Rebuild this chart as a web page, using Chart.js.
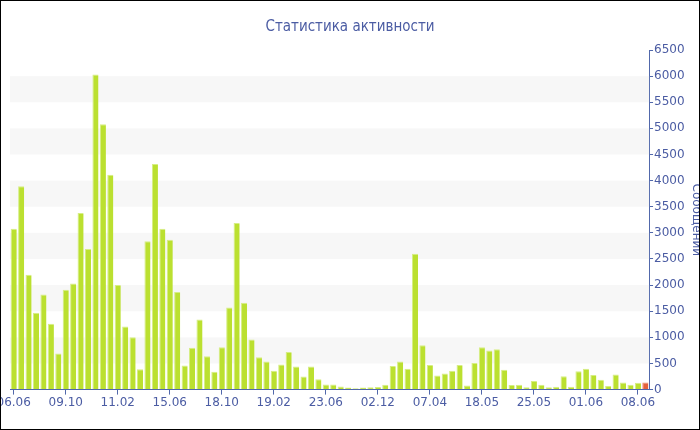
<!DOCTYPE html>
<html>
<head>
<meta charset="utf-8">
<script src="https://cdn.jsdelivr.net/npm/chart.js@4"></script>
<style>
  html, body { margin: 0; padding: 0; background: #fff; }
  #wrap { width: 700px; height: 430px; }
</style>
</head>
<body>
<div id="wrap"><canvas id="myChart" width="700" height="430"></canvas></div>
<script>
// tick labels shown under the x axis, one every 7 bars
const tickLabels = ["06.06", "09.10", "11.02", "15.06", "18.10", "19.02", "23.06",
  "02.12", "07.04", "18.05", "25.05", "01.06", "08.06"];
const labelEvery = 7;

// messages per period
const messages = [
  3080, 3890, 2200, 1470, 1820, 1260, 690, 1910, 2030, 3380,
  2690, 6030, 5080, 4110, 2000, 1210, 1000, 390, 2840, 4320,
  3080, 2870, 1870, 460, 800, 1340, 640, 340, 810, 1570,
  3190, 1660, 960, 620, 540, 360, 480, 720, 440, 250,
  440, 200, 100, 100, 60, 40, 25, 40, 45, 50,
  95, 450, 540, 400, 2600, 850, 470, 270, 310, 360,
  470, 80, 510, 810, 750, 770, 380, 90, 95, 45,
  165, 95, 45, 55, 255, 55, 350, 400, 280, 190,
  70, 290, 135, 95, 130, 135
];

const categories = messages.map((v, i) => i % labelEvery === 0 ? tickLabels[i / labelEvery] : "");

const textColor = "#4b5ca3";
const lineColor = "#5168ab";
const green = "#bbe030";
const red = "#e4613b";

let chart;

// light grey horizontal bands every other 500 step
const bandsPlugin = {
  id: "bands",
  beforeDatasetsDraw(c) {
    const { ctx, chartArea } = c;
    const y = c.scales.y;
    ctx.save();
    ctx.fillStyle = "#f7f7f7";
    for (let v = 500; v < y.max; v += 1000) {
      const top = y.getPixelForValue(v + 500);
      const bottom = y.getPixelForValue(v);
      ctx.fillRect(chartArea.left, top, chartArea.right - chartArea.left, bottom - top);
    }
    ctx.restore();
  },
  afterDraw(c) {
    const ctx = c.ctx;
    ctx.save();
    ctx.strokeStyle = "#000";
    ctx.lineWidth = 1;
    ctx.strokeRect(0.5, 0.5, c.width - 1, c.height - 1);
    ctx.restore();
  }
};

function initChart() {
  const ctx = document.getElementById("myChart");

  chart = new Chart(ctx, {
    type: "bar",
    data: {
      labels: categories,
      datasets: [{
        data: messages,
        backgroundColor: (c) => c.dataIndex === messages.length - 1 ? red : green,
        borderColor: (c) => c.dataIndex === messages.length - 1 ? "#ee8a6a" : "#d6ee84",
        borderWidth: { left: 1, top: 1, right: 0, bottom: 0 },
        borderSkipped: false,
        barPercentage: 0.82,
        categoryPercentage: 1
      }]
    },
    options: {
      responsive: false,
      animation: false,
      layout: { padding: { left: 0, right: 0, top: 0, bottom: 19 } },
      plugins: {
        legend: { display: false },
        tooltip: { enabled: false },
        title: {
          display: true,
          text: "Статистика активности",
          color: textColor,
          font: { family: "DejaVu Sans Condensed", size: 15, weight: "normal" },
          padding: { top: 18, bottom: 14 }
        }
      },
      scales: {
        x: {
          offset: true,
          // keep the plot 10px from the left edge and let the first label be cut
          afterFit: (s) => { s.paddingLeft = 10; s.paddingRight = 0; },
          grid: {
            offset: false,
            drawOnChartArea: false,
            tickLength: 5,
            tickColor: (c) => c.index % labelEvery === 0 ? lineColor : "rgba(0,0,0,0)"
          },
          border: { display: true, color: lineColor, width: 1 },
          ticks: {
            autoSkip: false,
            maxRotation: 0,
            minRotation: 0,
            padding: 1,
            color: textColor,
            font: { family: "DejaVu Sans", size: 12 },
            callback: (v, i) => categories[i]
          }
        },
        y: {
          position: "right",
          min: 0,
          max: 6500,
          grid: {
            drawOnChartArea: false,
            tickLength: 4,
            tickColor: lineColor
          },
          border: { display: true, color: lineColor, width: 1 },
          ticks: {
            stepSize: 250,
            padding: 1,
            color: textColor,
            font: { family: "DejaVu Sans", size: 12 },
            callback: (v) => v % 500 === 0 ? v : ""
          },
          title: {
            display: true,
            text: "Сообщений",
            color: textColor,
            font: { family: "DejaVu Sans", size: 12 },
            padding: { top: -3, bottom: 3 }
          }
        }
      }
    },
    plugins: [bandsPlugin]
  });
}

window.onload = () => {
  initChart();
};
</script>
</body>
</html>
